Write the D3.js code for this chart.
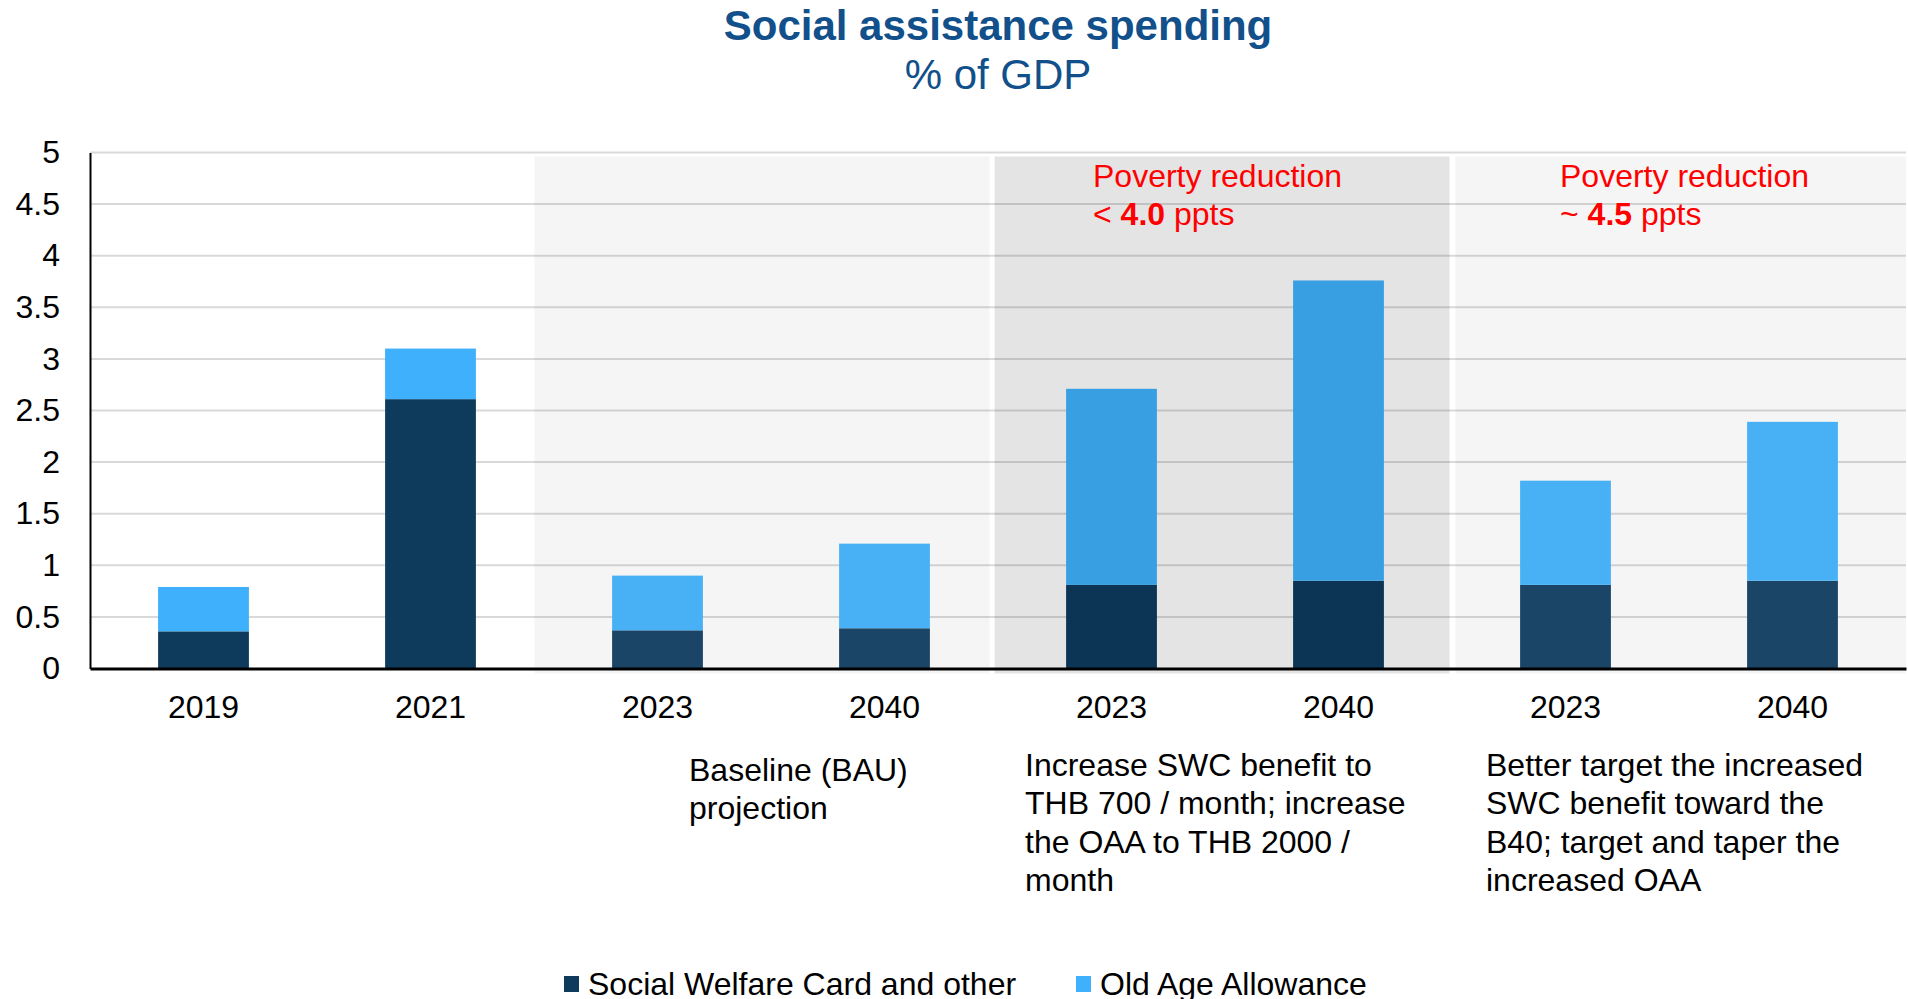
<!DOCTYPE html>
<html>
<head>
<meta charset="utf-8">
<script src="https://cdn.jsdelivr.net/npm/d3@7"></script>
<style>
  html, body { margin: 0; padding: 0; background: #fff; }
  svg { display: block; font-family: "Liberation Sans", Arial, sans-serif; }
</style>
</head>
<body>
<svg id="chart" width="1908" height="999"></svg>
<script>
// data
const years = ["2019", "2021", "2023", "2040", "2023", "2040", "2023", "2040"];
const swc = [0.36, 2.61, 0.37, 0.39, 0.81, 0.85, 0.81, 0.85];
const oaa = [0.43, 0.49, 0.53, 0.82, 1.90, 2.91, 1.01, 1.54];
const groups = ["hist", "hist", "base", "base", "a", "a", "b", "b"];
const yTicks = [0, 0.5, 1, 1.5, 2, 2.5, 3, 3.5, 4, 4.5, 5];
const seriesNames = ["Social Welfare Card and other", "Old Age Allowance"];

const scenarioLabels = [
  ["Baseline (BAU)", "projection"],
  ["Increase SWC benefit to", "THB 700 / month; increase", "the OAA to THB 2000 /", "month"],
  ["Better target the increased", "SWC benefit toward the", "B40; target and taper the", "increased OAA"]
];
const povertyNotes = [
  { pre: "< ", num: "4.0", post: " ppts" },
  { pre: "~ ", num: "4.5", post: " ppts" }
];

// colours per group (bars look different over the shaded panels)
const darkCol = { hist: "#0e3a5c", base: "#1b4566", a: "#0b3455", b: "#1b4566" };
const lightCol = { hist: "#3eb0fc", base: "#48b1f5", a: "#389fe3", b: "#48b1f5" };

const svg = d3.select("#chart");
const plotLeft = 90, plotRight = 1906, plotTop = 152.5, plotBottom = 668.5;

const x = d3.scaleBand()
  .domain(d3.range(years.length))
  .range([plotLeft, plotRight])
  .paddingInner(0.6)
  .paddingOuter(0.3);
const y = d3.scaleLinear().domain([0, 5]).range([plotBottom, plotTop]);
const step = x.step();
const cx = i => x(i) + x.bandwidth() / 2;

// title
svg.append("text")
  .attr("x", (plotLeft + plotRight) / 2).attr("y", 40)
  .attr("text-anchor", "middle")
  .attr("font-size", 42).attr("font-weight", "bold")
  .attr("fill", "#11508a")
  .text("Social assistance spending");
svg.append("text")
  .attr("x", (plotLeft + plotRight) / 2).attr("y", 89)
  .attr("text-anchor", "middle")
  .attr("font-size", 42)
  .attr("fill", "#11508a")
  .text("% of GDP");

// shaded scenario panels
const panels = [
  { x0: cx(2) - 0.542 * step, x1: cx(3) + 0.463 * step, fill: "#f5f5f5" },
  { x0: cx(4) - 0.515 * step, x1: cx(5) + 0.489 * step, fill: "#e4e4e4" },
  { x0: cx(6) - 0.485 * step, x1: plotRight, fill: "#f5f5f5" }
];
svg.append("g")
  .selectAll("rect")
  .data(panels)
  .join("rect")
  .attr("x", d => d.x0)
  .attr("y", plotTop + 4)
  .attr("width", d => d.x1 - d.x0)
  .attr("height", plotBottom - plotTop + 1)
  .attr("fill", d => d.fill);

// gridlines
svg.append("g")
  .selectAll("line")
  .data(yTicks.filter(t => t > 0))
  .join("line")
  .attr("x1", plotLeft).attr("x2", plotRight)
  .attr("y1", d => y(d)).attr("y2", d => y(d))
  .attr("stroke", "#000")
  .attr("stroke-opacity", 0.15)
  .attr("stroke-width", 2);

// stacked bars
const bars = svg.append("g");
bars.selectAll("rect.swc")
  .data(swc)
  .join("rect")
  .attr("class", "swc")
  .attr("x", (d, i) => x(i))
  .attr("width", x.bandwidth())
  .attr("y", d => y(d))
  .attr("height", d => y(0) - y(d))
  .attr("fill", (d, i) => darkCol[groups[i]]);
bars.selectAll("rect.oaa")
  .data(oaa)
  .join("rect")
  .attr("class", "oaa")
  .attr("x", (d, i) => x(i))
  .attr("width", x.bandwidth())
  .attr("y", (d, i) => y(swc[i] + d))
  .attr("height", (d, i) => y(swc[i]) - y(swc[i] + d))
  .attr("fill", (d, i) => lightCol[groups[i]]);

// axes
const yAxis = svg.append("g")
  .attr("transform", `translate(${plotLeft},0)`)
  .call(d3.axisLeft(y).tickValues(yTicks).tickSize(0).tickPadding(30).tickFormat(d3.format("")));
yAxis.select(".domain").attr("stroke", "#000").attr("stroke-width", 2);
yAxis.selectAll("text").attr("font-size", 32).attr("fill", "#000").attr("font-family", null);

const xAxis = svg.append("g")
  .attr("transform", `translate(0,${plotBottom})`)
  .call(d3.axisBottom(x).tickSize(0).tickPadding(27).tickFormat(i => years[i]));
xAxis.select(".domain").attr("stroke", "#000").attr("stroke-width", 3);
xAxis.selectAll("text").attr("font-size", 32).attr("fill", "#000").attr("font-family", null);

// poverty reduction notes
const noteX = [1093, 1560];
povertyNotes.forEach((n, k) => {
  const g = svg.append("g").attr("fill", "#ff0000").attr("font-size", 32);
  g.append("text").attr("x", noteX[k]).attr("y", 187).text("Poverty reduction");
  const t = g.append("text").attr("x", noteX[k]).attr("y", 225);
  t.append("tspan").text(n.pre);
  t.append("tspan").attr("font-weight", "bold").text(n.num);
  t.append("tspan").text(n.post);
});

// scenario descriptions under the axis
const labelPos = [{ x: 689, y: 781 }, { x: 1025, y: 776 }, { x: 1486, y: 776 }];
scenarioLabels.forEach((lines, k) => {
  svg.append("text")
    .attr("font-size", 32)
    .attr("fill", "#000")
    .selectAll("tspan")
    .data(lines)
    .join("tspan")
    .attr("x", labelPos[k].x)
    .attr("y", (d, j) => labelPos[k].y + j * 38.3)
    .text(d => d);
});

// legend
const legendX = [564, 1076];
const legendCol = [darkCol.hist, lightCol.hist];
const legend = svg.append("g").selectAll("g")
  .data(seriesNames)
  .join("g")
  .attr("transform", (d, i) => `translate(${legendX[i]},976)`);
legend.append("rect")
  .attr("width", 15).attr("height", 16)
  .attr("fill", (d, i) => legendCol[i]);
legend.append("text")
  .attr("x", 24).attr("y", 19)
  .attr("font-size", 32)
  .attr("fill", "#000")
  .text(d => d);
</script>
</body>
</html>
